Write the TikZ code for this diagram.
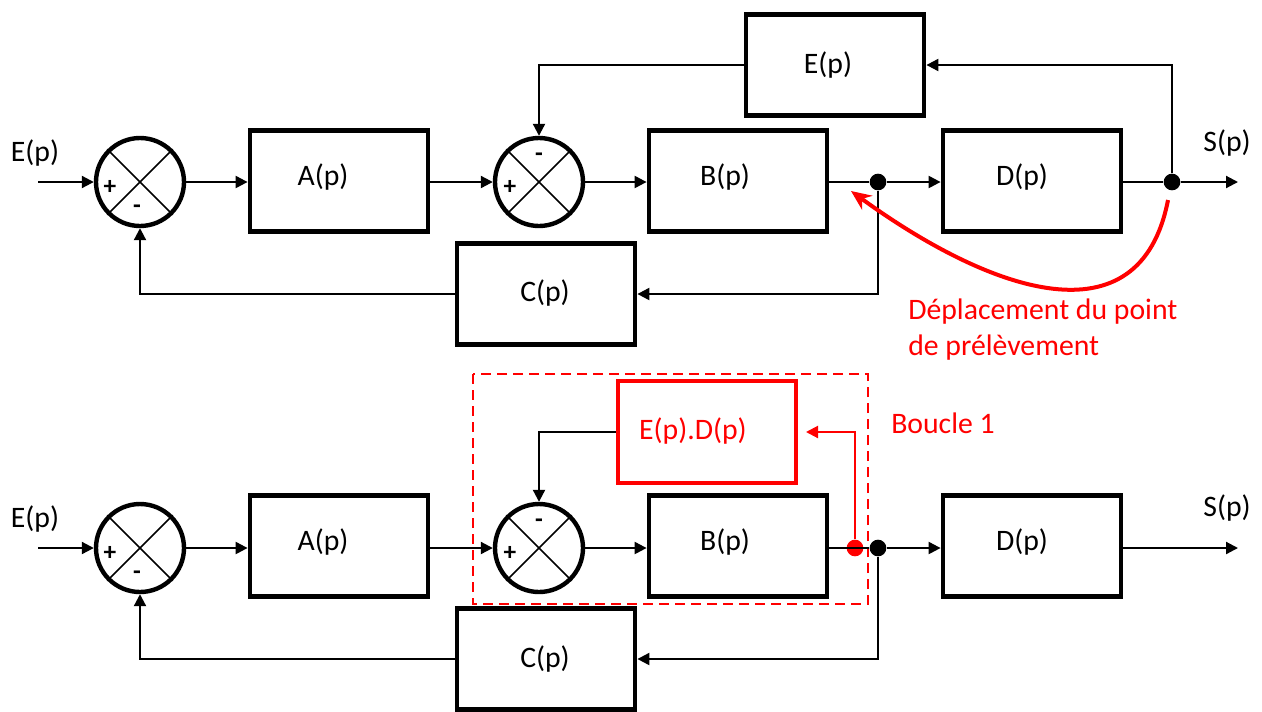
\documentclass[tikz,border=0pt]{standalone}
\usepackage{fontspec}
\setmainfont{Carlito}
\usetikzlibrary{arrows.meta,calc}
\begin{document}
\begin{tikzpicture}[x=0.75pt,y=-0.75pt,
  every node/.style={font=\fontsize{22.3}{24}\selectfont},
  blk/.style={draw,line width=3.6pt,minimum width=133.5pt,minimum height=76pt,inner sep=0pt},
  redblk/.style={blk,draw=red,line width=3pt},
  sumnode/.style={draw,circle,line width=3.3pt,minimum size=66pt,inner sep=0pt},
  sgn/.style={font=\bfseries\fontsize{19}{20}\selectfont,inner sep=0pt},
  lbl/.style={inner sep=0pt},
  wire/.style={line width=1.6pt},
  arr/.style={wire,-{Triangle[length=9pt,width=9pt]}},
  junc/.style={circle,fill=black,minimum size=12.5pt,inner sep=0pt},
  redtxt/.style={text=red,inner sep=0pt}
]
\useasboundingbox (0,0) rectangle (1262,711);

% ================= TOP DIAGRAM =================
\coordinate (tin) at (38,182);
\node[lbl] (tEin) at (35,153) {E(p)};
\node[sumnode] (ts1) at (140,182) {};
\draw[line width=1.3pt] (ts1.45) -- (ts1.225) (ts1.135) -- (ts1.315);
\node[sgn] (ts1p) at (110,187) {+};
\node[sgn] (ts1m) at (137,209) {-};
\node[blk] (tA) at (339,181) {};
\node[lbl] (tAl) at (323,177) {A(p)};
\node[sumnode] (ts2) at (539,182) {};
\draw[line width=1.3pt] (ts2.45) -- (ts2.225) (ts2.135) -- (ts2.315);
\node[sgn] (ts2m) at (539,157) {-};
\node[sgn] (ts2p) at (510,187) {+};
\node[blk] (tB) at (738,181) {};
\node[lbl] (tBl) at (725,177) {B(p)};
\node[junc] (td1) at (878,182) {};
\node[blk] (tD) at (1032,181) {};
\node[lbl] (tDl) at (1022,177) {D(p)};
\node[junc] (td2) at (1172,182) {};
\coordinate (tout) at (1238,182);
\node[lbl] (tS) at (1227,143) {S(p)};
\node[blk] (tE) at (835,65) {};
\node[lbl] (tEl) at (828,65) {E(p)};
\node[blk] (tC) at (546,294) {};
\node[lbl] (tCl) at (545,293) {C(p)};

\draw[arr] (tin) -- (ts1.west);
\draw[arr] (ts1.east) -- (ts1.east -| tA.west);
\draw[arr] (tA.east |- ts2) -- (ts2.west);
\draw[arr] (ts2.east) -- (ts2.east -| tB.west);
\draw[wire] (tB.east |- td1) -- (td1);
\draw[arr] (td1) -- (td1 -| tD.west);
\draw[wire] (tD.east |- td2) -- (td2);
\draw[arr] (td2) -- (tout);
\draw[arr] (td2) |- (tE.east);
\draw[arr] (tE.west) -| (ts2.north);
\draw[arr] (td1) |- (tC.east);
\draw[arr] (tC.west) -| (ts1.south);

% red displacement arrow
\coordinate (rs) at (1168,200);
\coordinate (re) at (851,191);
\draw[red,line width=3pt,-{Stealth[length=15pt,width=13pt]}] (rs) .. controls (1140,345) and (990,292) .. (re);
\node[redtxt,anchor=west] (rt1) at (908,312) {Déplacement du point};
\node[redtxt,anchor=west] (rt2) at (908,348) {de prélèvement};

% ================= BOTTOM DIAGRAM =================
\coordinate (bin) at (38,548);
\node[lbl] (bEin) at (35,519) {E(p)};
\node[sumnode] (bs1) at (140,548) {};
\draw[line width=1.3pt] (bs1.45) -- (bs1.225) (bs1.135) -- (bs1.315);
\node[sgn] (bs1p) at (110,553) {+};
\node[sgn] (bs1m) at (137,575) {-};
\node[blk] (bA) at (339,546) {};
\node[lbl] (bAl) at (323,542) {A(p)};
\node[sumnode] (bs2) at (539,548) {};
\draw[line width=1.3pt] (bs2.45) -- (bs2.225) (bs2.135) -- (bs2.315);
\node[sgn] (bs2m) at (539,523) {-};
\node[sgn] (bs2p) at (510,553) {+};
\node[blk] (bB) at (738,546) {};
\node[lbl] (bBl) at (725,542) {B(p)};
\node[junc] (bd1) at (878,548) {};
\node[junc,fill=red] (brd) at (855,548) {};
\node[blk] (bD) at (1032,546) {};
\node[lbl] (bDl) at (1022,542) {D(p)};
\coordinate (bout) at (1238,548);
\node[lbl] (bS) at (1227,508) {S(p)};
\node[redblk] (bED) at (707,432) {};
\node[redtxt] (bEDl) at (693,431) {E(p).D(p)};
\node[blk] (bC) at (546,659) {};
\node[lbl] (bCl) at (545,659) {C(p)};
\draw[red,line width=1.5pt,dash pattern=on 7.5pt off 4.5pt] (473,374) rectangle (868,604);
\node[redtxt] (bb1) at (943,423) {Boucle 1};

\draw[arr] (bin) -- (bs1.west);
\draw[arr] (bs1.east) -- (bs1.east -| bA.west);
\draw[arr] (bA.east |- bs2) -- (bs2.west);
\draw[arr] (bs2.east) -- (bs2.east -| bB.west);
\draw[wire] (bB.east |- bd1) -- (bd1);
\draw[arr] (bd1) -- (bd1 -| bD.west);
\draw[arr] (bD.east |- bout) -- (bout);
\draw[arr,red,shorten >=6pt] (brd) |- (bED.east);
\draw[arr] (bED.west) -| (bs2.north);
\draw[arr] (bd1) |- (bC.east);
\draw[arr] (bC.west) -| (bs1.south);
\end{tikzpicture}
\end{document}
